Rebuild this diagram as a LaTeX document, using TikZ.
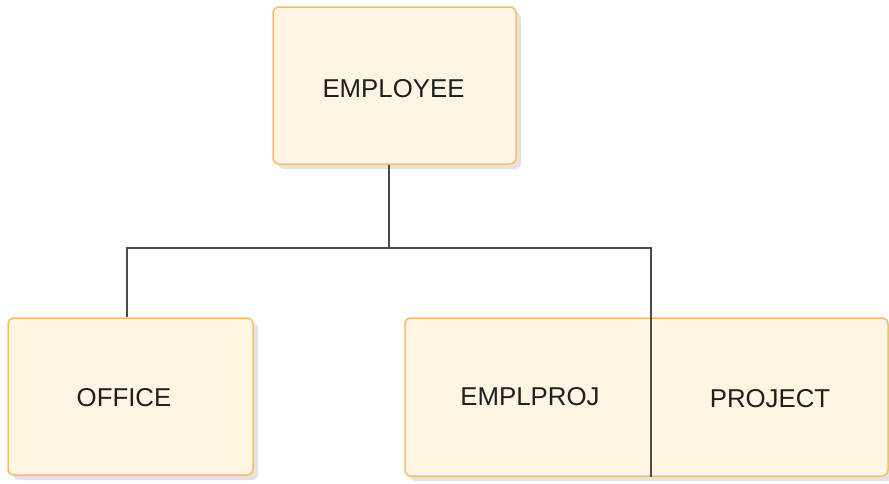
\documentclass[tikz,border=0pt]{standalone}
\usepackage{fontspec}
\setmainfont{Liberation Sans}
\usetikzlibrary{shadows}
\definecolor{boxfill}{HTML}{FFF5E3}
\definecolor{boxdraw}{HTML}{F5BE64}
\definecolor{linec}{HTML}{4A4A4A}
\definecolor{shadowc}{HTML}{E3E3E3}
\begin{document}
\begin{tikzpicture}[x=1pt,y=-1pt,
  entity/.style={draw=boxdraw, fill=boxfill, line width=1.5pt, rounded corners=6pt, inner sep=0pt,
    drop shadow={shadow xshift=5pt, shadow yshift=-5pt, fill=shadowc, opacity=1}},
  lbl/.style={font=\fontsize{25.8}{30}\selectfont, text=black!88, inner sep=0pt},
  conn/.style={draw=linec, line width=1.4pt}]
\useasboundingbox (0,0) rectangle (889,483);
\node[entity, minimum width=243pt, minimum height=157pt] (employee) at (394.5,85.5) {};
\node[entity, minimum width=245pt, minimum height=157pt] (office) at (130.5,396.5) {};
\node[entity, minimum width=483pt, minimum height=158pt] (group) at (646.5,397) {};
\node[lbl] (employeeText) at (393.5,89) {EMPLOYEE};
\node[lbl] (officeText) at (124,398) {OFFICE};
\node[lbl] (emplprojText) at (530,397) {EMPLPROJ};
\node[lbl] (projectText) at (770,399) {PROJECT};
\coordinate (split) at (389,248);
\coordinate (leftTurn) at (127,248);
\coordinate (rightTurn) at (651,248);
\draw[conn] (employee.south -| split) -- (split);
\draw[conn] (split) -- (leftTurn) -- (leftTurn |- office.north);
\draw[conn] (split) -- (rightTurn) -- (rightTurn |- group.south);
\end{tikzpicture}
\end{document}
